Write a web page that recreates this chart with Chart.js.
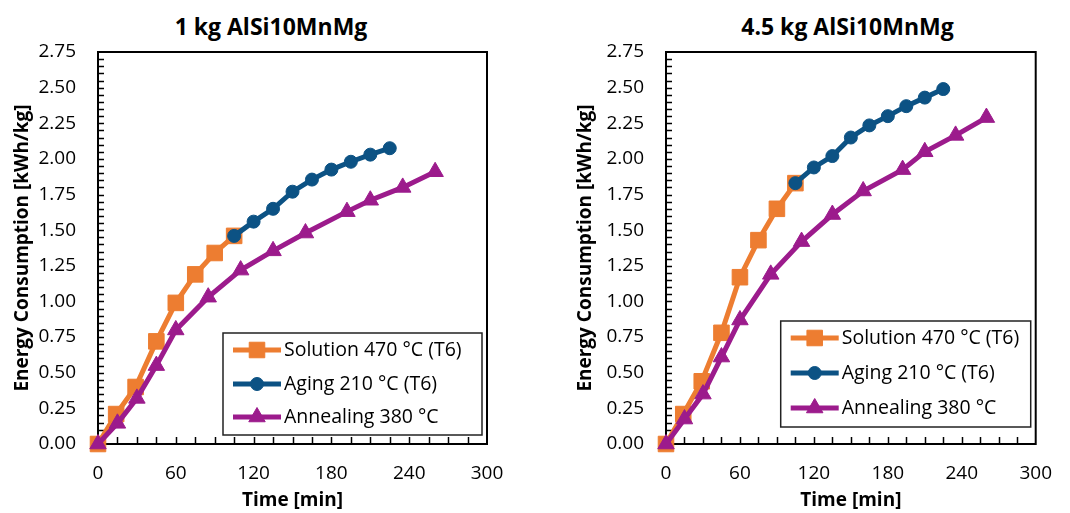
<!DOCTYPE html>
<html>
<head>
<meta charset="utf-8">
<script src="https://cdn.jsdelivr.net/npm/chart.js@4.4.1/dist/chart.umd.min.js"></script>
<style>
  body { margin: 0; background: #fff; }
  .wrap { position: relative; width: 1070px; height: 513px; overflow: hidden; font-family: 'Open Sans', sans-serif; }
  .wrap canvas { position: absolute; top: 0; }
  .title { position: absolute; top: 10px; line-height: 32px; font-size: 23px; font-weight: bold; text-align: center; color: #000; }
</style>
</head>
<body>
<div class="wrap">
  <div class="title" style="left:0;width:542px">1 kg AlSi10MnMg</div>
  <div class="title" style="left:625px;width:445px">4.5 kg AlSi10MnMg</div>
  <canvas id="chart1kg" width="535" height="513" style="left:0"></canvas>
  <canvas id="chart45kg" width="507" height="513" style="left:563px"></canvas>
</div>
<script>
// time stamps [min]
const solutionTime = [0, 14, 29, 45, 60, 75, 90, 105];
const agingTime = [105, 120, 135, 150, 165, 180, 195, 210, 225];
const annealingTime = [0, 15, 30, 45, 60, 85, 110, 135, 160, 192, 210, 235, 260];

// energy consumption [kWh/kg], 1 kg batch
const solution1kg = [0, 0.21, 0.40, 0.72, 0.99, 1.19, 1.34, 1.46];
const aging1kg = [1.46, 1.56, 1.65, 1.77, 1.855, 1.925, 1.98, 2.03, 2.075];
const annealing1kg = [0, 0.145, 0.32, 0.55, 0.80, 1.03, 1.22, 1.355, 1.48, 1.63, 1.71, 1.80, 1.91];

// energy consumption [kWh/kg], 4.5 kg batch
const solution45kg = [0, 0.21, 0.44, 0.78, 1.17, 1.43, 1.65, 1.83];
const aging45kg = [1.83, 1.94, 2.02, 2.15, 2.235, 2.30, 2.37, 2.43, 2.49];
const annealing45kg = [0, 0.175, 0.35, 0.61, 0.87, 1.19, 1.42, 1.61, 1.775, 1.925, 2.05, 2.165, 2.29];

const seriesNames = ['Solution 470 °C (T6)', 'Aging 210 °C (T6)', 'Annealing 380 °C'];
const seriesColors = ['#ED7D31', '#0C5284', '#9C1B8C'];
const timeMax = 300, timeStep = 60, timeMinor = 15;
const energyMax = 2.75, energyStep = 0.25, energyMinor = 0.05;

Chart.defaults.font.family = "'Open Sans', sans-serif";
Chart.defaults.font.size = 19;
Chart.defaults.color = '#000';

const toPoints = (xs, ys) => xs.map((x, i) => ({x: x, y: ys[i]}));

// plot frame with small inward tick marks
const frame = {
  id: 'frame',
  beforeDatasetsDraw(chart) {
    const {ctx, chartArea: a, scales: {x, y}} = chart;
    ctx.save();
    ctx.strokeStyle = '#000';
    ctx.lineWidth = 1.5;
    ctx.beginPath();
    for (let k = 1; k * timeMinor < timeMax; k++) {
      const px = Math.round(x.getPixelForValue(k * timeMinor)) + 0.5;
      ctx.moveTo(px, a.bottom);
      ctx.lineTo(px, a.bottom - 7);
    }
    const nMinor = Math.round(energyMax / energyMinor);
    for (let k = 1; k < nMinor; k++) {
      const py = Math.round(y.getPixelForValue(k * energyMinor)) + 0.5;
      ctx.moveTo(a.left, py);
      ctx.lineTo(a.left + 6, py);
    }
    ctx.stroke();
    ctx.lineWidth = 2;
    ctx.strokeRect(a.left, a.top, a.right - a.left, a.bottom - a.top);
    ctx.restore();
  }
};

// legend box in the lower right corner of the plot
const boxLegend = {
  id: 'boxLegend',
  afterDatasetsDraw(chart, args, opts) {
    const {ctx, chartArea: a} = chart;
    const x0 = a.right - opts.right - opts.width;
    const y0 = a.bottom - opts.bottom - opts.height;
    ctx.save();
    ctx.fillStyle = '#fff';
    ctx.fillRect(x0, y0, opts.width, opts.height);
    ctx.strokeStyle = '#222';
    ctx.lineWidth = 1.5;
    ctx.strokeRect(x0, y0, opts.width, opts.height);
    ctx.font = "19.5px 'Open Sans', sans-serif";
    ctx.textBaseline = 'middle';
    chart.data.datasets.forEach((ds, i) => {
      const cy = y0 + opts.rows[i];
      ctx.strokeStyle = ds.borderColor;
      ctx.lineWidth = ds.borderWidth;
      ctx.beginPath();
      ctx.moveTo(x0 + 10, cy);
      ctx.lineTo(x0 + 58, cy);
      ctx.stroke();
      ctx.fillStyle = ds.backgroundColor;
      ctx.lineWidth = 1;
      Chart.helpers.drawPoint(ctx, {pointStyle: ds.pointStyle, radius: ds.pointRadius, borderWidth: 1, rotation: 0}, x0 + 34, cy);
      ctx.fillStyle = '#000';
      ctx.fillText(ds.label, x0 + 61, cy);
    });
    ctx.restore();
  }
};

function makeChart(id, solution, aging, annealing, box) {
  const series = [
    {data: toPoints(solutionTime, solution), pointStyle: 'rect', pointRadius: 11, order: 3},
    {data: toPoints(agingTime, aging), pointStyle: 'circle', pointRadius: 6.5, order: 2},
    {data: toPoints(annealingTime, annealing), pointStyle: 'triangle', pointRadius: 9.5, order: 1}
  ];
  return new Chart(document.getElementById(id), {
    type: 'line',
    data: {
      datasets: series.map((s, i) => ({
        label: seriesNames[i],
        data: s.data,
        order: s.order,
        borderColor: seriesColors[i],
        backgroundColor: seriesColors[i],
        pointBorderColor: seriesColors[i],
        pointBackgroundColor: seriesColors[i],
        borderWidth: 5,
        pointStyle: s.pointStyle,
        pointRadius: s.pointRadius,
        pointBorderWidth: 1,
        tension: 0,
        clip: false
      }))
    },
    options: {
      responsive: false,
      animation: false,
      devicePixelRatio: 1,
      layout: {padding: {top: 52, right: box.padRight, left: 0, bottom: 0}},
      plugins: {
        legend: {display: false},
        tooltip: {enabled: false},
        boxLegend: box.legend
      },
      scales: {
        x: {
          type: 'linear',
          min: 0,
          max: timeMax,
          grid: {display: false, drawTicks: false},
          border: {display: false},
          ticks: {stepSize: timeStep, padding: 18},
          title: {display: true, text: 'Time [min]', font: {weight: 'bold', size: 19}, padding: {top: 0, bottom: 1}},
          afterFit: (scale) => { scale.height = 69; }
        },
        y: {
          min: 0,
          max: energyMax,
          grid: {display: false, drawTicks: false},
          border: {display: false},
          ticks: {stepSize: energyStep, padding: 22, callback: (v) => v.toFixed(2)},
          title: {display: true, text: 'Energy Consumption [kWh/kg]', font: {weight: 'bold', size: 19}, padding: {top: 11, bottom: 0}},
          afterFit: (scale) => { scale.width = box.axisWidth; }
        }
      }
    },
    plugins: [frame, boxLegend]
  });
}

makeChart('chart1kg', solution1kg, aging1kg, annealing1kg, {
  padRight: 48, axisWidth: 98,
  legend: {width: 259, height: 102, right: 5, bottom: 9, rows: [17, 51, 84]}
});
makeChart('chart45kg', solution45kg, aging45kg, annealing45kg, {
  padRight: 19, axisWidth: 103,
  legend: {width: 250, height: 106, right: 5, bottom: 17, rows: [17, 52, 87]}
});
</script>
</body>
</html>
